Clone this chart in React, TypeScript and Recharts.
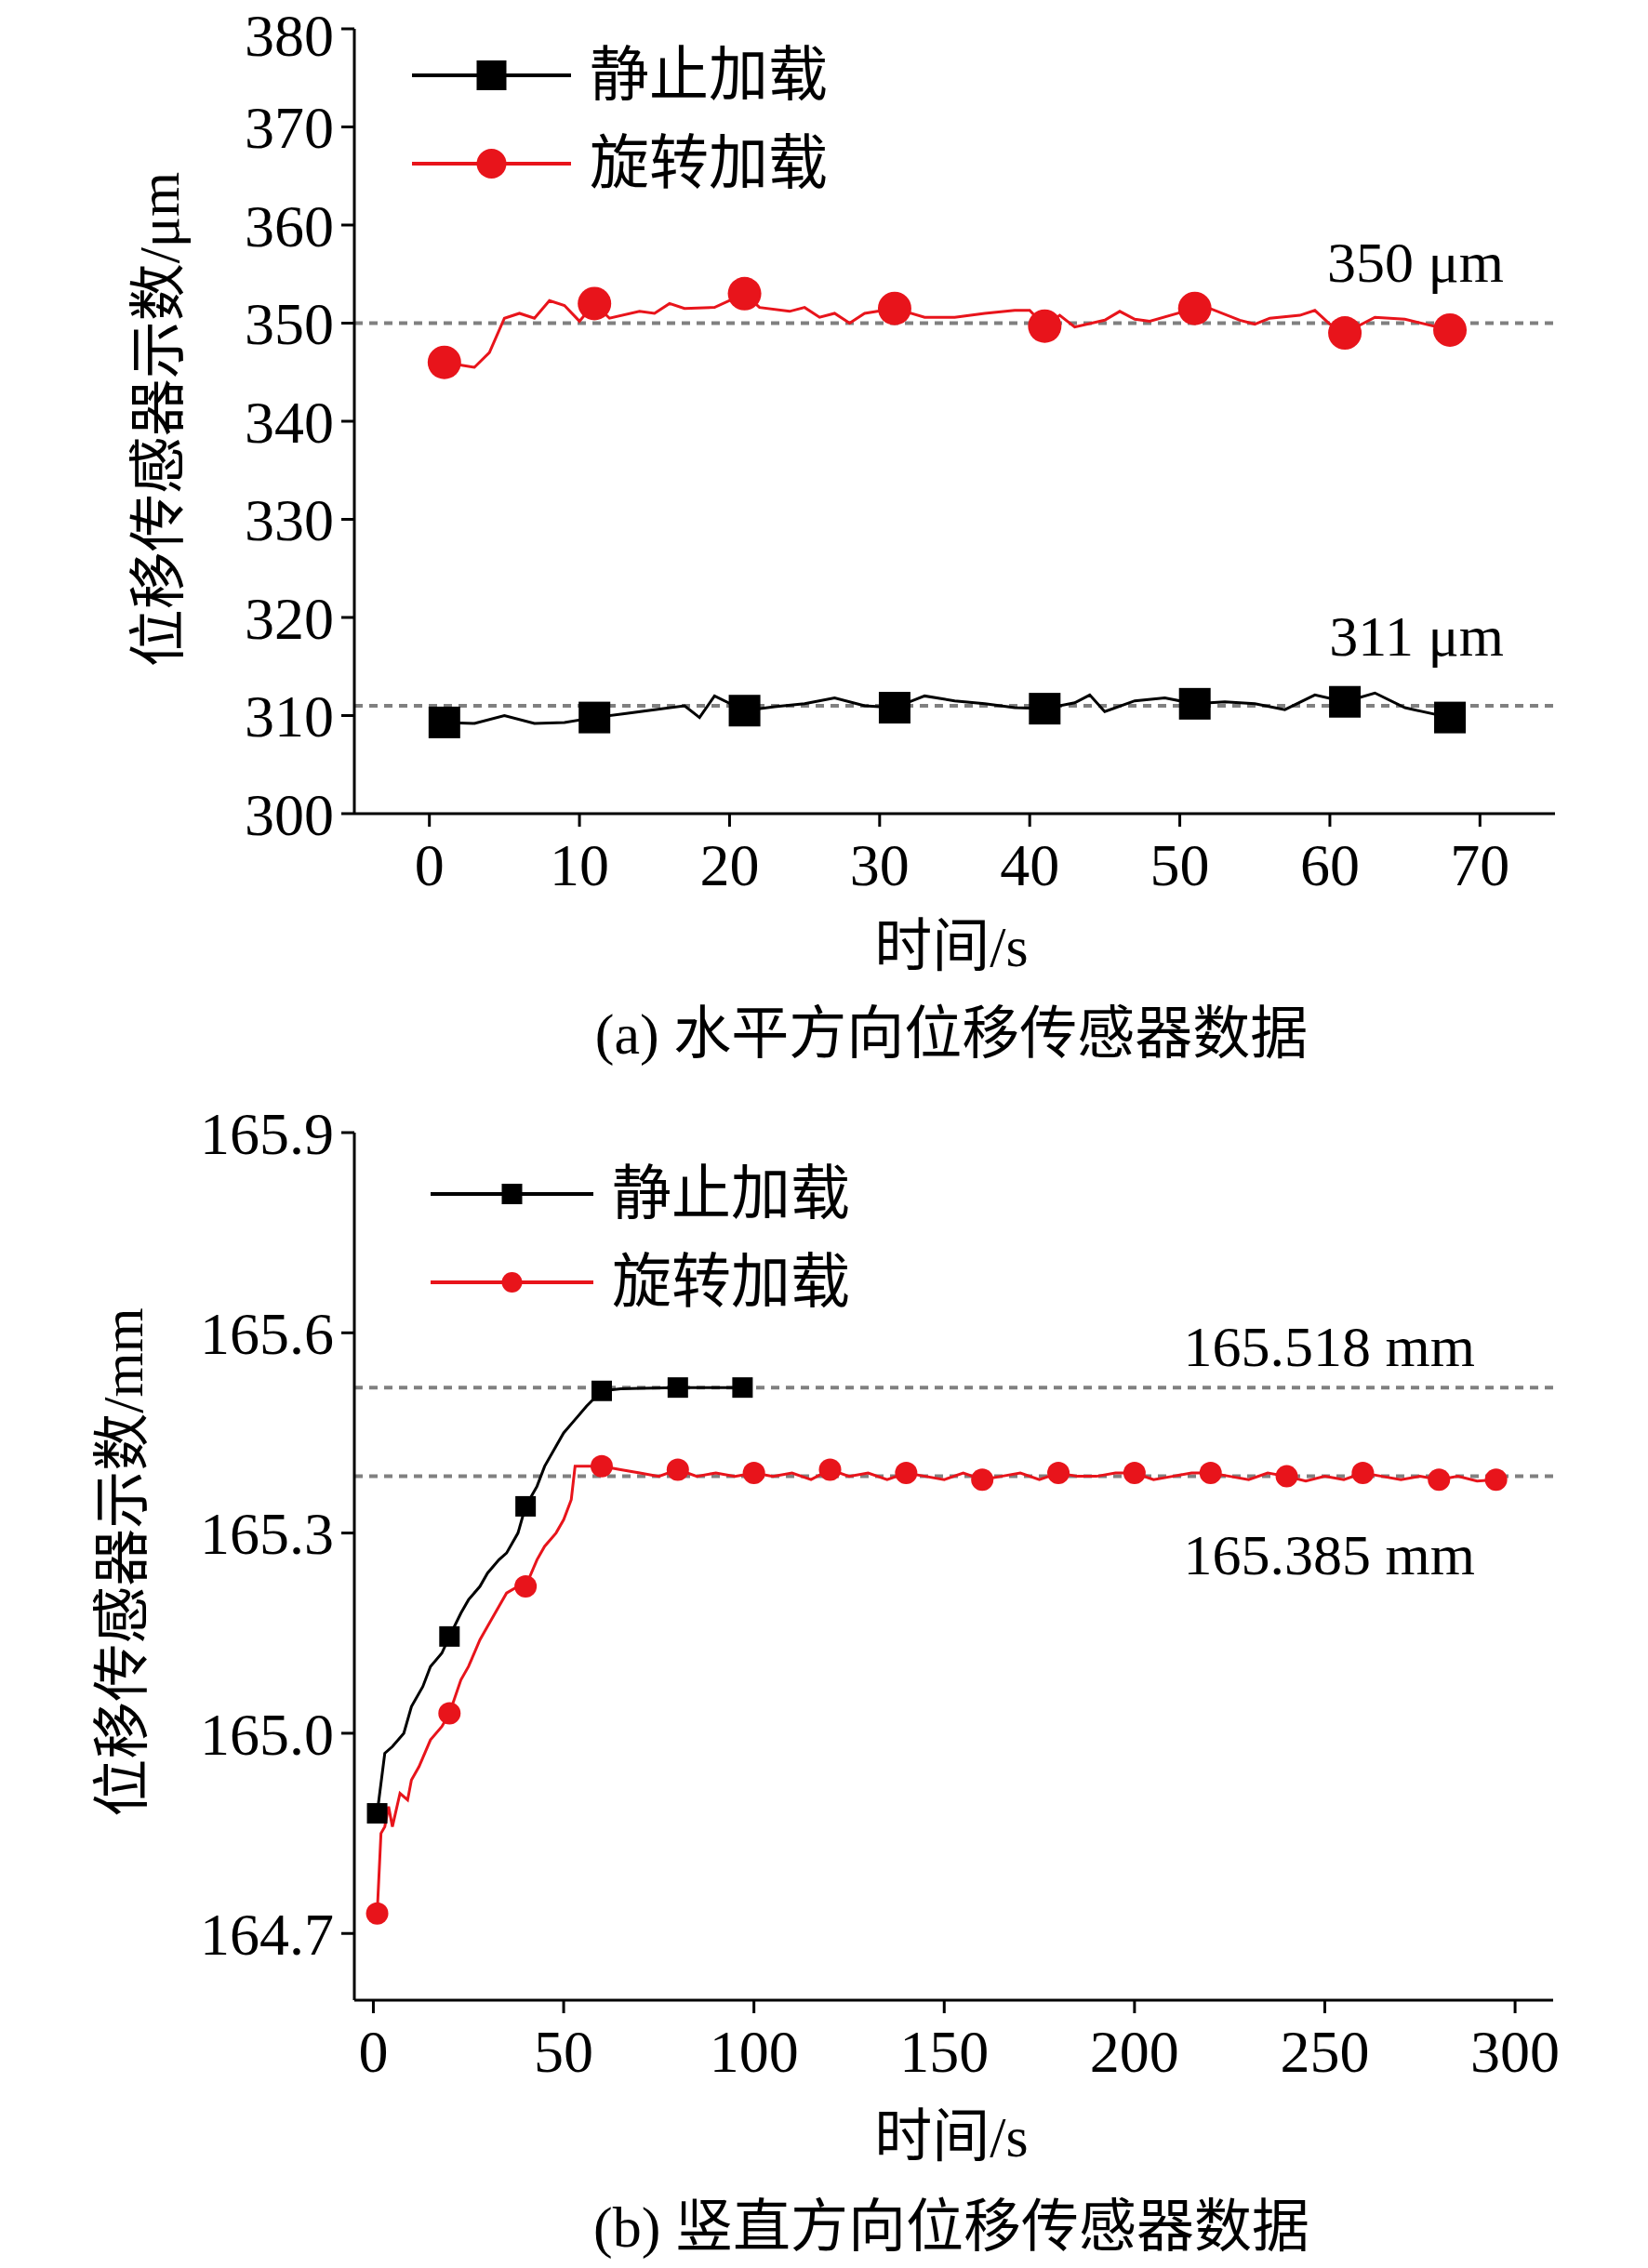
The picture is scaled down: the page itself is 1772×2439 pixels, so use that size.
import React from "react";
import { LineChart, Line, XAxis, YAxis, ReferenceLine } from "recharts";

// (a) horizontal sensor, time in s, value in μm
const aStaticT = [1, 3, 5, 7, 9, 11, 13, 15, 17, 18, 19, 21, 23, 25, 27, 29, 31, 33, 35, 37, 39, 41, 43, 44, 45, 47, 49, 51, 53, 55, 57, 59, 61, 63, 65, 68];
const aStaticV = [309.3, 309.2, 310, 309.2, 309.3, 309.8, 310.2, 310.6, 311, 309.8, 312, 310.5, 310.9, 311.2, 311.8, 311, 310.8, 312, 311.5, 311.2, 310.8, 310.7, 311.3, 312.1, 310.4, 311.5, 311.8, 311.2, 311.4, 311.2, 310.6, 312.1, 311.4, 312.3, 310.8, 309.8];
const aStaticMarks = [1, 11, 21, 31, 41, 51, 61, 68];

const aRotT = [1, 3, 4, 5, 6, 7, 8, 9, 10, 11, 12, 14, 15, 16, 17, 19, 21, 22, 24, 25, 26, 27, 28, 29, 31, 33, 35, 37, 39, 40, 41, 42, 43, 45, 46, 47, 48, 51, 52, 54, 55, 56, 58, 59, 60, 61, 63, 65, 68];
const aRotV = [346, 345.5, 347, 350.5, 351, 350.5, 352.3, 351.8, 350.2, 352, 350.5, 351.2, 351, 352, 351.5, 351.6, 353, 351.6, 351.2, 351.6, 350.6, 351, 350, 351, 351.5, 350.6, 350.6, 351, 351.3, 351.3, 349.7, 350.8, 349.6, 350.3, 351.2, 350.4, 350.2, 351.5, 351.5, 350.3, 349.9, 350.5, 350.8, 351.3, 349.9, 349, 350.6, 350.4, 349.3];
const aRotMarks = [1, 11, 21, 31, 41, 51, 61, 68];

// (b) vertical sensor, time in s, value in mm
const bStaticT = [1, 3, 5, 8, 10, 13, 15, 18, 20, 23, 25, 28, 30, 33, 35, 38, 40, 43, 45, 48, 50, 53, 56, 60, 65, 70, 80, 90, 97];
const bStaticV = [164.88, 164.97, 164.98, 165.0, 165.04, 165.07, 165.1, 165.12, 165.145, 165.18, 165.2, 165.22, 165.24, 165.26, 165.27, 165.3, 165.34, 165.37, 165.4, 165.43, 165.45, 165.47, 165.49, 165.513, 165.516, 165.517, 165.518, 165.518, 165.518];
const bStaticMarks = [1, 20, 40, 60, 80, 97];

const bRotT = [1, 2, 3, 4, 5, 7, 9, 10, 12, 15, 18, 20, 23, 25, 28, 30, 33, 35, 38, 40, 43, 45, 48, 50, 52, 53, 56, 60, 65, 70, 75, 80, 85, 90, 95, 100, 105, 110, 115, 120, 125, 130, 135, 140, 145, 150, 155, 160, 165, 170, 175, 180, 185, 190, 195, 200, 205, 210, 215, 220, 225, 230, 235, 240, 245, 250, 255, 260, 265, 270, 275, 280, 285, 290, 295];
const bRotV = [164.73, 164.85, 164.86, 164.89, 164.86, 164.91, 164.9, 164.93, 164.95, 164.99, 165.01, 165.03, 165.08, 165.1, 165.14, 165.16, 165.19, 165.21, 165.22, 165.22, 165.26, 165.28, 165.3, 165.32, 165.35, 165.4, 165.4, 165.4, 165.395, 165.39, 165.385, 165.395, 165.385, 165.39, 165.385, 165.39, 165.385, 165.39, 165.38, 165.395, 165.385, 165.39, 165.38, 165.39, 165.385, 165.38, 165.39, 165.38, 165.385, 165.39, 165.38, 165.39, 165.385, 165.385, 165.39, 165.39, 165.38, 165.385, 165.39, 165.39, 165.385, 165.38, 165.39, 165.385, 165.378, 165.385, 165.38, 165.39, 165.385, 165.38, 165.385, 165.38, 165.385, 165.378, 165.38];
const bRotMarks = [1, 20, 40, 60, 80, 100, 120, 140, 160, 180, 200, 220, 240, 260, 280, 295];

const aXTicks = [0, 10, 20, 30, 40, 50, 60, 70];
const aYTicks = [300, 310, 320, 330, 340, 350, 360, 370, 380];
const bXTicks = [0, 50, 100, 150, 200, 250, 300];
const bYTicks = [164.7, 165.0, 165.3, 165.6, 165.9];

const SERIF = "'Liberation Serif', 'Noto Sans CJK SC', serif";
const RED = "#e8141b";

const toRows = (t: number[], v: number[]) => t.map((x, i) => ({ t: x, v: v[i] }));

const markDot = (marks: number[], kind: "sq" | "ci", size: number, color: string) =>
  (p: any) => {
    const key = `d-${p.index}`;
    if (!marks.includes(p.payload.t)) return <g key={key} />;
    return kind === "sq" ? (
      <rect key={key} x={p.cx - size / 2} y={p.cy - size / 2} width={size} height={size} fill={color} />
    ) : (
      <circle key={key} cx={p.cx} cy={p.cy} r={size / 2} fill={color} />
    );
  };

const tick = { fontSize: 64, fill: "#000", fontFamily: SERIF };
const axisLine = { stroke: "#000", strokeWidth: 3 };
const tickLine = { stroke: "#000", strokeWidth: 3 };

const Txt = ({ x, y, size, children, anchor = "middle", rotate = false }: any) => (
  <div
    style={{
      position: "absolute",
      left: x,
      top: y,
      transform:
        (anchor === "middle" ? "translate(-50%,-50%)" : anchor === "end" ? "translate(-100%,-50%)" : "translate(0,-50%)") +
        (rotate ? " rotate(-90deg)" : ""),
      fontFamily: SERIF,
      fontSize: size,
      whiteSpace: "nowrap",
      lineHeight: 1,
      color: "#000",
    }}
  >
    {children}
  </div>
);

const LegendItem = ({ x1, x2, y, kind, size, color, label }: any) => (
  <>
    <svg style={{ position: "absolute", left: 0, top: 0, overflow: "visible" }} width={1} height={1}>
      <line x1={x1} x2={x2} y1={y} y2={y} stroke={color} strokeWidth={4} />
      {kind === "sq" ? (
        <rect x={(x1 + x2) / 2 - size / 2} y={y - size / 2} width={size} height={size} fill={color} />
      ) : (
        <circle cx={(x1 + x2) / 2} cy={y} r={size / 2} fill={color} />
      )}
    </svg>
    <Txt x={x2 + 20} y={y} size={64} anchor="start">{label}</Txt>
  </>
);

export default function App() {
  const aStatic = toRows(aStaticT, aStaticV);
  const aRot = toRows(aRotT, aRotV);
  const bStatic = toRows(bStaticT, bStaticV);
  const bRot = toRows(bRotT, bRotV);

  return (
    <div style={{ position: "relative", width: 1772, height: 2439, background: "#fff", margin: -8 }}>
      <div style={{ position: "absolute", left: 0, top: 0 }}>
        <LineChart width={1772} height={1000} margin={{ top: 31, right: 100, left: 231, bottom: 45 }}>
          <XAxis type="number" dataKey="t" domain={[-5, 75]} ticks={aXTicks} allowDuplicatedCategory={false}
            tick={tick} axisLine={axisLine} tickLine={tickLine} tickSize={14} tickMargin={18} height={80} />
          <YAxis type="number" dataKey="v" domain={[300, 380]} ticks={aYTicks} tick={tick}
            axisLine={axisLine} tickLine={tickLine} tickSize={14} tickMargin={8} width={150} />
          <ReferenceLine y={350} stroke="#808080" strokeWidth={4} strokeDasharray="9 7" />
          <ReferenceLine y={311} stroke="#808080" strokeWidth={4} strokeDasharray="9 7" />
          <Line data={aStatic} dataKey="v" stroke="#000" strokeWidth={3} isAnimationActive={false}
            dot={markDot(aStaticMarks, "sq", 34, "#000")} activeDot={false} />
          <Line data={aRot} dataKey="v" stroke={RED} strokeWidth={3} isAnimationActive={false}
            dot={markDot(aRotMarks, "ci", 36, RED)} activeDot={false} />
        </LineChart>
      </div>
      <LegendItem x1={443} x2={614} y={81} kind="sq" size={32} color="#000" label="静止加载" />
      <LegendItem x1={443} x2={614} y={176} kind="ci" size={32} color={RED} label="旋转加载" />
      <Txt x={1617} y={282} size={62} anchor="end">350 μm</Txt>
      <Txt x={1617} y={684} size={62} anchor="end">311 μm</Txt>
      <Txt x={171} y={451} size={62} rotate>位移传感器示数/μm</Txt>
      <Txt x={1023} y={1018} size={62}>时间/s</Txt>
      <Txt x={1023} y={1112} size={62}>(a) 水平方向位移传感器数据</Txt>

      <div style={{ position: "absolute", left: 0, top: 1150 }}>
        <LineChart width={1772} height={1100} margin={{ top: 68, right: 102, left: 231, bottom: 19 }}>
          <XAxis type="number" dataKey="t" domain={[-5, 310]} ticks={bXTicks} allowDuplicatedCategory={false}
            tick={tick} axisLine={axisLine} tickLine={tickLine} tickSize={14} tickMargin={18} height={80} />
          <YAxis type="number" dataKey="v" domain={[164.6, 165.9]} ticks={bYTicks} tick={tick}
            tickFormatter={(v: number) => v.toFixed(1)}
            axisLine={axisLine} tickLine={tickLine} tickSize={14} tickMargin={8} width={150} />
          <ReferenceLine y={165.518} stroke="#808080" strokeWidth={4} strokeDasharray="9 7" />
          <ReferenceLine y={165.385} stroke="#808080" strokeWidth={4} strokeDasharray="9 7" />
          <Line data={bStatic} dataKey="v" stroke="#000" strokeWidth={3} isAnimationActive={false}
            dot={markDot(bStaticMarks, "sq", 22, "#000")} activeDot={false} />
          <Line data={bRot} dataKey="v" stroke={RED} strokeWidth={3} isAnimationActive={false}
            dot={markDot(bRotMarks, "ci", 24, RED)} activeDot={false} />
        </LineChart>
      </div>
      <LegendItem x1={463} x2={638} y={1284} kind="sq" size={22} color="#000" label="静止加载" />
      <LegendItem x1={463} x2={638} y={1379} kind="ci" size={22} color={RED} label="旋转加载" />
      <Txt x={1586} y={1448} size={62} anchor="end">165.518 mm</Txt>
      <Txt x={1586} y={1672} size={62} anchor="end">165.385 mm</Txt>
      <Txt x={132} y={1680} size={62} rotate>位移传感器示数/mm</Txt>
      <Txt x={1023} y={2298} size={62}>时间/s</Txt>
      <Txt x={1023} y={2395} size={62}>(b) 竖直方向位移传感器数据</Txt>
    </div>
  );
}
